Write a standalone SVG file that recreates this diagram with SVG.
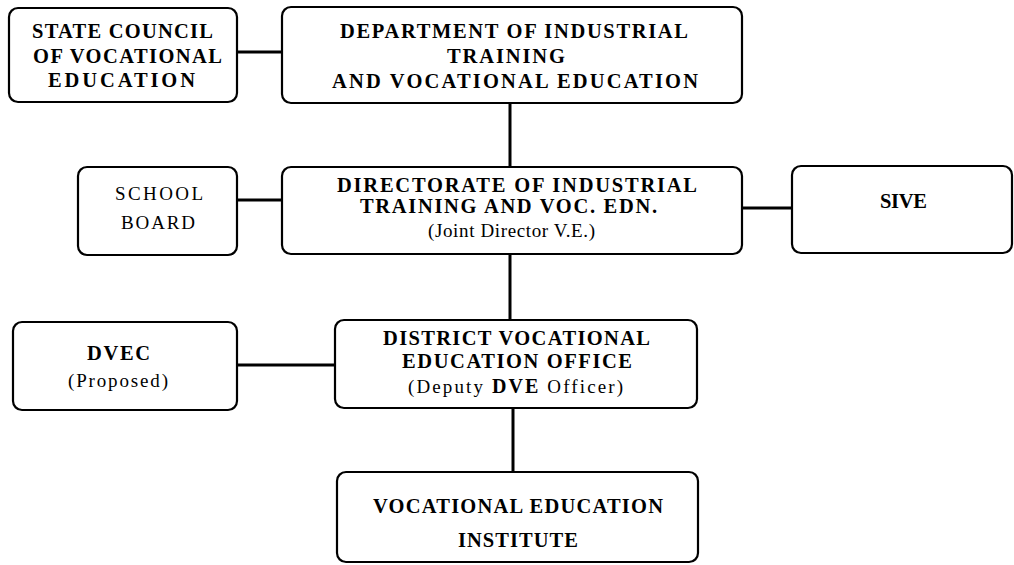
<svg xmlns="http://www.w3.org/2000/svg" width="1014" height="565" viewBox="0 0 1014 565">
<style>
.box{fill:#fff;stroke:#000;stroke-width:2.2}
.c{stroke:#000;stroke-width:3;fill:none}
.b{font-family:"Liberation Serif","Times New Roman",serif;font-weight:bold;font-size:20.5px;fill:#000}
.r{font-family:"Liberation Serif","Times New Roman",serif;font-size:19px;fill:#000}
</style>
<rect width="1014" height="565" fill="#fff"/>
<g id="connectors">
<line class="c" x1="237" y1="52" x2="282" y2="52"/>
<line class="c" x1="510" y1="103" x2="510" y2="167"/>
<line class="c" x1="237" y1="200" x2="282" y2="200"/>
<line class="c" x1="742" y1="208" x2="792" y2="208"/>
<line class="c" x1="510" y1="254" x2="510" y2="320"/>
<line class="c" x1="237" y1="365" x2="335" y2="365"/>
<line class="c" x1="513" y1="408" x2="513" y2="472"/>
</g>
<g id="state-council">
<rect class="box" x="9" y="8" width="228" height="94" rx="9"/>
<text class="b" x="32" y="38" textLength="181" lengthAdjust="spacing">STATE COUNCIL</text>
<text class="b" x="33" y="63" textLength="189" lengthAdjust="spacing">OF VOCATIONAL</text>
<text class="b" x="48" y="87" textLength="147" lengthAdjust="spacing">EDUCATION</text>
</g>
<g id="department">
<rect class="box" x="282" y="7" width="460" height="96" rx="9"/>
<text class="b" x="340" y="38" textLength="348" lengthAdjust="spacing">DEPARTMENT OF INDUSTRIAL</text>
<text class="b" x="447" y="63" textLength="118" lengthAdjust="spacing">TRAINING</text>
<text class="b" x="332" y="88" textLength="366" lengthAdjust="spacing">AND VOCATIONAL EDUCATION</text>
</g>
<g id="school-board">
<rect class="box" x="78" y="167" width="159" height="88" rx="9"/>
<text class="r" x="115" y="200" textLength="88" lengthAdjust="spacing" font-size="20.5">SCHOOL</text>
<text class="r" x="121" y="229" textLength="74" lengthAdjust="spacing" font-size="20.5">BOARD</text>
</g>
<g id="directorate">
<rect class="box" x="282" y="167" width="460" height="87" rx="9"/>
<text class="b" x="337" y="192" textLength="360" lengthAdjust="spacing">DIRECTORATE  OF INDUSTRIAL</text>
<text class="b" x="360" y="213" textLength="297" lengthAdjust="spacing">TRAINING AND VOC. EDN.</text>
<text class="r" x="428" y="237" textLength="167" lengthAdjust="spacing">(Joint Director V.E.)</text>
</g>
<g id="sive">
<rect class="box" x="792" y="166" width="220" height="87" rx="9"/>
<text class="b" x="880" y="208" textLength="47" lengthAdjust="spacing">SIVE</text>
</g>
<g id="dvec">
<rect class="box" x="13" y="322" width="224" height="88" rx="9"/>
<text class="b" x="87" y="360" textLength="63" lengthAdjust="spacing">DVEC</text>
<text class="r" x="68" y="387" textLength="100" lengthAdjust="spacing">(Proposed)</text>
</g>
<g id="district">
<rect class="box" x="335" y="320" width="362" height="88" rx="9"/>
<text class="b" x="383" y="345" textLength="267" lengthAdjust="spacing">DISTRICT VOCATIONAL</text>
<text class="b" x="402" y="368" textLength="230" lengthAdjust="spacing">EDUCATION OFFICE</text>
<text class="r" x="408" y="393" textLength="215" lengthAdjust="spacing">(Deputy <tspan font-weight="bold" font-size="20">DVE</tspan> Officer)</text>
</g>
<g id="institute">
<rect class="box" x="337" y="472" width="361" height="90" rx="9"/>
<text class="b" x="373" y="513" textLength="290" lengthAdjust="spacing">VOCATIONAL EDUCATION</text>
<text class="b" x="458" y="547" textLength="120" lengthAdjust="spacing">INSTITUTE</text>
</g>
</svg>
